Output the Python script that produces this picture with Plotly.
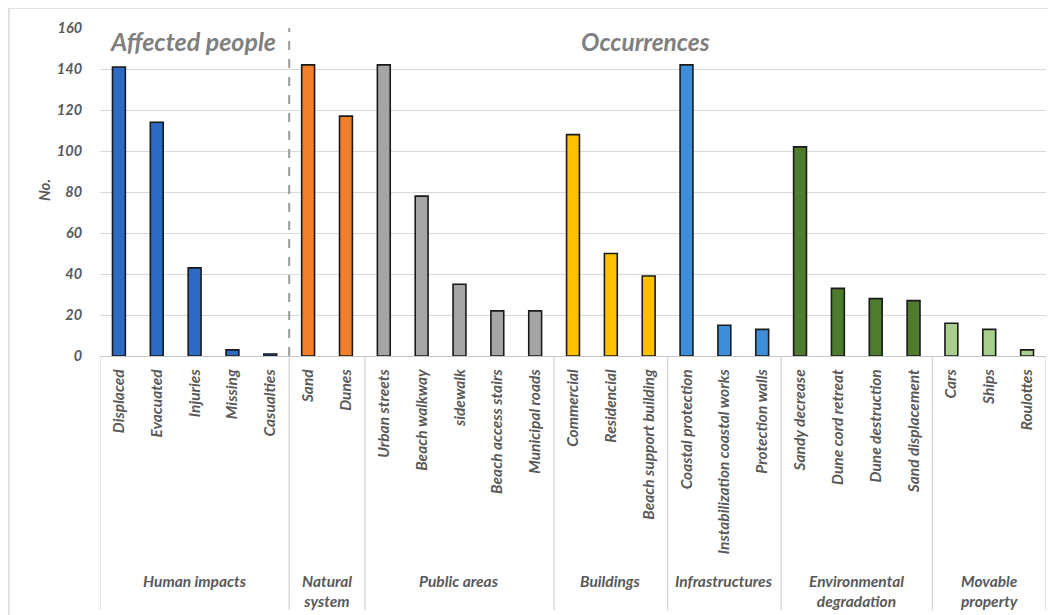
import plotly.graph_objects as go

# ---- data ----
categories = ["Displaced", "Evacuated", "Injuries", "Missing", "Casualties",
              "Sand", "Dunes",
              "Urban streets", "Beach walkway", "sidewalk", "Beach access stairs", "Municipal roads",
              "Commercial", "Residencial", "Beach support building",
              "Coastal protection", "Instabilization coastal works", "Protection walls",
              "Sandy decrease", "Dune cord retreat", "Dune destruction", "Sand displacement",
              "Cars", "Ships", "Roulottes"]
values = [141, 114, 43, 3, 1,
          142, 117,
          142, 78, 35, 22, 22,
          108, 50, 39,
          142, 15, 13,
          102, 33, 28, 27,
          16, 13, 3]
group_names = ["Human impacts", "Natural<br>system", "Public areas", "Buildings",
               "Infrastructures", "Environmental<br>degradation", "Movable<br>property"]
group_sizes = [5, 2, 5, 3, 3, 4, 3]
group_colors = ["#2E69C4", "#F27F29", "#A5A5A5", "#FFC000", "#3E8DD8", "#4F7B2F", "#A8CF8C"]
y_ticks = [0, 20, 40, 60, 80, 100, 120, 140, 160]

# ---- styling helpers ----
bar_colors = []
for c, n in zip(group_colors, group_sizes):
    bar_colors += [c] * n

TXT = "#595959"
FONT = "Lato"
OFF = 8  # page body margin

fig = go.Figure(go.Bar(
    x=categories, y=values,
    marker=dict(color=bar_colors, line=dict(color="#1a1a1a", width=1.6)),
    width=0.34,
))

W, H = 1056 - OFF, 615 - OFF
# plot area in screen pixels
SL, SR, ST, SB = 100, 1046, 28, 356
L, R, T, B = SL - OFF, W - (SR - OFF), ST - OFF, H - (SB - OFF)
ph = SB - ST
pw = SR - SL


def py(sy):
    return (SB - sy) / ph


def px(sx):
    return (sx - SL) / pw


shapes = []
# outer frame
shapes.append(dict(type="rect", xref="paper", yref="paper",
                   x0=px(9), x1=px(1080), y0=py(8), y1=py(640),
                   line=dict(color="#D9D9D9", width=1.5), layer="below"))
# group dividers below axis
pos = -0.5
bounds = [pos]
for n in group_sizes:
    pos += n
    bounds.append(pos)
for b in bounds:
    shapes.append(dict(type="line", xref="x", yref="paper", x0=b, x1=b,
                       y0=0, y1=py(610), line=dict(color="#D0D0D0", width=1.2)))
# dashed separator between affected people and occurrences
shapes.append(dict(type="line", xref="x", yref="y", x0=4.5, x1=4.5, y0=0, y1=160,
                   line=dict(color="#9A9A9A", width=2, dash="dash")))

annotations = []
start = 0
for name, n in zip(group_names, group_sizes):
    center = start + (n - 1) / 2
    annotations.append(dict(x=center, y=py(570), xref="x", yref="paper",
                            text=name, showarrow=False, xanchor="center", yanchor="top",
                            font=dict(family=FONT, size=15.5, color=TXT, style="italic", weight=700)))
    start += n

annotations.append(dict(x=px(193), y=py(41), xref="paper", yref="paper", text="Affected people",
                        showarrow=False, xanchor="center", yanchor="middle",
                        font=dict(family=FONT, size=25, color="#7F7F7F", style="italic", weight=700)))
annotations.append(dict(x=px(645), y=py(41), xref="paper", yref="paper", text="Occurrences",
                        showarrow=False, xanchor="center", yanchor="middle",
                        font=dict(family=FONT, size=24.5, color="#7F7F7F", style="italic", weight=700)))
annotations.append(dict(x=px(44), y=py(190), xref="paper", yref="paper", text="No.",
                        showarrow=False, textangle=-90, xanchor="center", yanchor="middle",
                        font=dict(family=FONT, size=15, color=TXT, style="italic", weight=700)))

fig.update_layout(
    width=W, height=H,
    margin=dict(l=L, r=R, t=T, b=B, autoexpand=False),
    paper_bgcolor="white", plot_bgcolor="white",
    showlegend=False,
    font=dict(family=FONT, color=TXT),
    shapes=shapes, annotations=annotations,
)
fig.update_xaxes(
    range=[-0.5, len(categories) - 0.5],
    tickangle=-90,
    tickfont=dict(family=FONT, size=15.5, color=TXT, style="italic", weight=700),
    showgrid=False, showline=True, linecolor="#C8C8C8", linewidth=1.2,
    ticks="outside", ticklen=6, tickcolor="rgba(0,0,0,0)",
)
fig.update_yaxes(
    range=[0, 160], tickvals=y_ticks,
    tickfont=dict(family=FONT, size=14.5, color=TXT, style="italic", weight=700),
    showgrid=True, gridcolor="#D9D9D9", gridwidth=1.2,
    zeroline=False, showline=False,
    ticks="outside", ticklen=14, tickcolor="rgba(0,0,0,0)",
)

fig.write_html("out.html")
